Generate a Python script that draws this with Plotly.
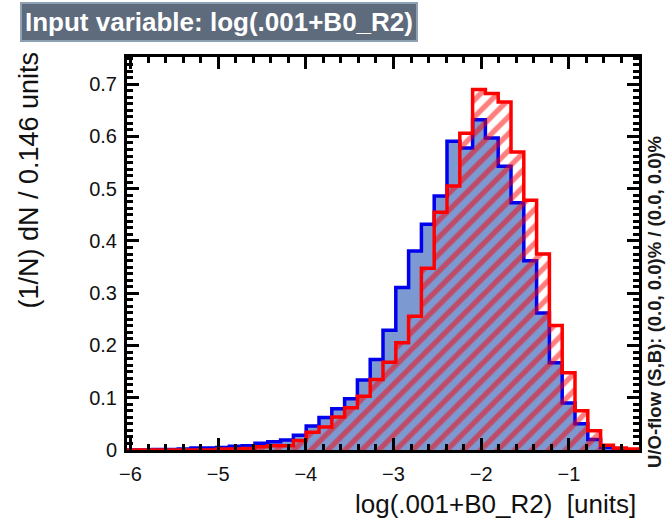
import plotly.graph_objects as go
import numpy as np

# ---- data ----
x_min = -6.04
bin_width = 0.146
signal = [0.0, 0.0, 0.001, 0.001, 0.002, 0.004, 0.004, 0.005, 0.007, 0.008,
          0.013, 0.016, 0.019, 0.028, 0.046, 0.062, 0.079, 0.098, 0.134, 0.173,
          0.229, 0.311, 0.381, 0.432, 0.486, 0.591, 0.578, 0.632, 0.597, 0.543,
          0.473, 0.362, 0.262, 0.167, 0.090, 0.050, 0.020, 0.005, 0.001, 0.0]
background = [0.0, 0.0, 0.0, 0.0, 0.0, 0.0, 0.0, 0.002, 0.002, 0.003,
              0.006, 0.008, 0.008, 0.018, 0.034, 0.044, 0.063, 0.081, 0.103, 0.135,
              0.168, 0.205, 0.256, 0.348, 0.455, 0.505, 0.606, 0.690, 0.682, 0.666,
              0.570, 0.478, 0.375, 0.238, 0.148, 0.075, 0.037, 0.009, 0.004, 0.002]
x_ticks = [-6, -5, -4, -3, -2, -1]
y_ticks = [0, 0.1, 0.2, 0.3, 0.4, 0.5, 0.6, 0.7]
y_max = 0.752

title_text = "Input variable: log(.001+B0_R2)"
x_title = "log(.001+B0_R2)\u00a0 [units]"
y_title = "(1/N) dN / 0.146 units"
flow_text = "U/O-flow (S,B): (0.0, 0.0)% / (0.0, 0.0)%"

edges = x_min + bin_width * np.arange(len(signal) + 1)
x_max = float(edges[-1])


def step(vals):
    xs = [edges[0]] + list(edges) + [edges[-1]]
    ys = [0] + list(vals) + [vals[-1], 0]
    return xs, ys


fig = go.Figure()
sx, sy = step(signal)
fig.add_trace(go.Scatter(x=sx, y=sy, mode="lines", line=dict(shape="hv", color="#0000ee", width=3.5),
                         fill="tozeroy", fillcolor="#7d99d1", showlegend=False, hoverinfo="skip"))
bx, by = step(background)
fig.add_trace(go.Scatter(x=bx, y=by, mode="lines", line=dict(shape="hv", color="#ff0000", width=3.5),
                         fill="tozeroy", fillcolor="rgba(0,0,0,0)",
                         fillpattern=dict(shape="/", fgcolor="#ff0000", bgcolor="rgba(0,0,0,0)",
                                          size=12, solidity=0.45),
                         showlegend=False, hoverinfo="skip"))

axis_common = dict(ticks="inside", ticklen=12, tickwidth=2.5, tickcolor="black",
                   showline=True, linewidth=3, linecolor="black", mirror="allticks",
                   showgrid=False, zeroline=False,
                   tickfont=dict(family="Liberation Sans, Arial, sans-serif", size=20, color="#111"))

fig.update_xaxes(range=[x_min, x_max], tickmode="array", tickvals=x_ticks,
                 minor=dict(dtick=0.2, tick0=-6, ticklen=6, tickwidth=2.5, ticks="inside", tickcolor="black"),
                 ticklabelstandoff=4, **axis_common)
fig.update_yaxes(range=[0, y_max], tickmode="array", tickvals=y_ticks,
                 minor=dict(dtick=0.0125, tick0=0, ticklen=6, tickwidth=2.5, ticks="inside", tickcolor="black"),
                 ticklabelstandoff=3, **axis_common)

L, R, T, B = 127, 27, 57, 74
W, H = 666, 524
pw, ph = W - L - R, H - T - B


def px_x(p):
    return (p - L) / pw


def px_y(p):
    return (H - B - p) / ph


fig.update_layout(
    width=W, height=H, margin=dict(l=L, r=R, t=T, b=B),
    paper_bgcolor="white", plot_bgcolor="white",
    annotations=[
        dict(text="<b>" + title_text + "</b>", xref="paper", yref="paper",
             x=px_x(20), y=px_y(2), xanchor="left", yanchor="top", showarrow=False,
             font=dict(family="Liberation Sans, Arial, sans-serif", size=26, color="white"),
             bgcolor="#5d6b7d", bordercolor="#8fa2b4", borderwidth=2, borderpad=3),
        dict(text=x_title, xref="paper", yref="paper", x=px_x(638), y=px_y(504),
             xanchor="right", yanchor="middle", showarrow=False,
             font=dict(family="Liberation Sans, Arial, sans-serif", size=26, color="#111")),
        dict(text=y_title, xref="paper", yref="paper", x=px_x(28), y=px_y(50),
             xanchor="center", yanchor="top", textangle=-90, showarrow=False,
             font=dict(family="Liberation Sans, Arial, sans-serif", size=27, color="#111")),
        dict(text="<b>" + flow_text + "</b>", xref="paper", yref="paper", x=px_x(654), y=px_y(470),
             xanchor="center", yanchor="bottom", textangle=-90, showarrow=False,
             font=dict(family="Liberation Sans, Arial, sans-serif", size=18.5, color="#1a1a1a")),
    ],
)

fig.write_html("out.html")
